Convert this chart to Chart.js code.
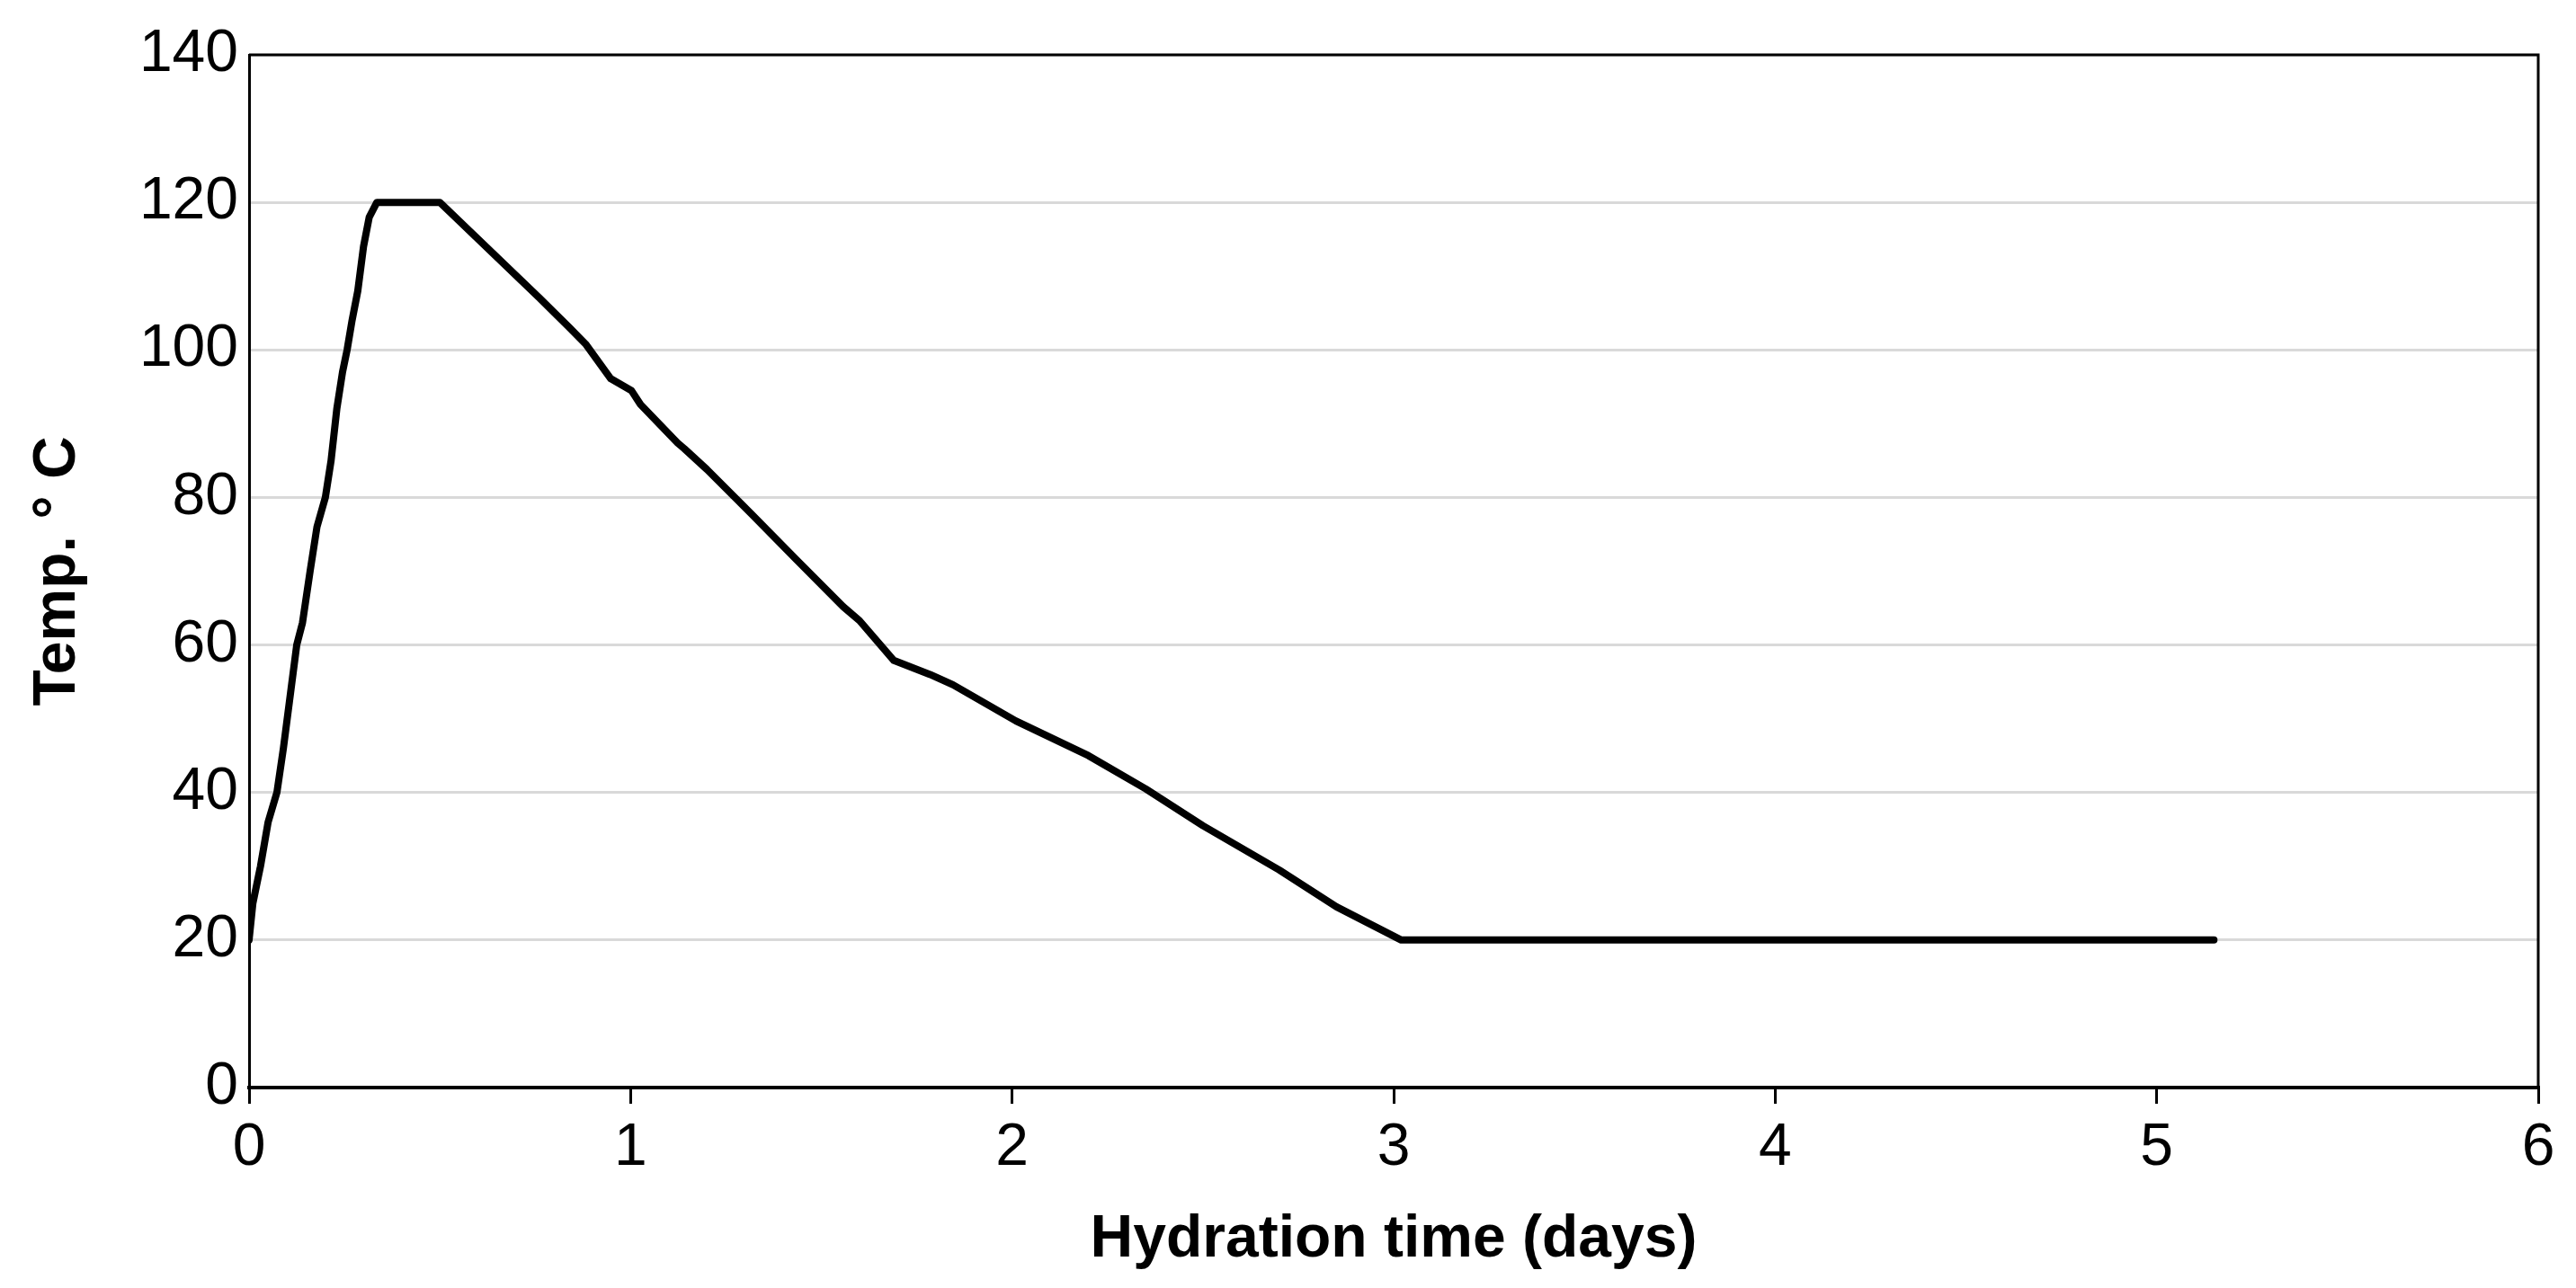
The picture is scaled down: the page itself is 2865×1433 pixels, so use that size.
<!DOCTYPE html>
<html>
<head>
<meta charset="utf-8">
<script src="https://cdn.jsdelivr.net/npm/chart.js@4.4.1/dist/chart.umd.min.js"></script>
<style>
  html, body { margin: 0; padding: 0; background: #fff; }
  #wrap { width: 2865px; height: 1433px; }
</style>
</head>
<body>
<div id="wrap"><canvas id="tempchart"></canvas></div>
<script>
// hydration time in days, temperature in deg C
var days = [0, 0.01, 0.03, 0.05, 0.073, 0.09, 0.11, 0.125, 0.14, 0.16, 0.178, 0.2, 0.215, 0.23, 0.245, 0.257,
	0.27, 0.285, 0.3, 0.315, 0.335, 0.5, 0.762, 0.84, 0.882, 0.948, 1.002, 1.026, 1.123, 1.141, 1.2,
	1.316, 1.436, 1.557, 1.6, 1.69, 1.785, 1.845, 2.01, 2.2, 2.35, 2.5, 2.7, 2.85, 3.02, 5.15];
var temps = [20, 25, 30, 36, 40, 46, 54, 60, 63, 70, 76, 80, 85, 92, 97, 100,
	104, 108, 114, 118, 120, 120, 107, 103, 100.8, 96.1, 94.5, 92.6, 87.4, 86.6, 83.8,
	77.8, 71.5, 65.2, 63.3, 57.9, 56, 54.6, 49.7, 45, 40.5, 35.5, 29.5, 24.5, 20, 20];
var xTicks = [0, 1, 2, 3, 4, 5, 6];
var yTicks = [0, 20, 40, 60, 80, 100, 120, 140];

var points = days.map(function(d, i) { return {x: d, y: temps[i]}; });

var tickFont = {family: "'Liberation Sans Narrow', 'Arial Narrow', 'Liberation Sans', Arial", size: 66};
var titleFont = {family: "'Liberation Sans', Arial", size: 66, weight: 'bold'};

// closes the plot frame on top and right
var frame = {
	id: 'frame',
	afterDraw: function(chart) {
		var a = chart.chartArea, ctx = chart.ctx;
		ctx.save();
		ctx.strokeStyle = '#000';
		ctx.lineWidth = 3;
		ctx.beginPath();
		ctx.moveTo(a.left, a.top);
		ctx.lineTo(a.right, a.top);
		ctx.lineTo(a.right, a.bottom);
		ctx.stroke();
		ctx.restore();
	}
};

Chart.defaults.color = '#000';

new Chart(document.getElementById('tempchart'), {
	type: 'line',
	data: {
		datasets: [{
			data: points,
			borderColor: '#000',
			borderWidth: 8,
			pointRadius: 0,
			tension: 0,
			borderJoinStyle: 'round',
			borderCapStyle: 'round'
		}]
	},
	options: {
		responsive: true,
		maintainAspectRatio: false,
		animation: false,
		layout: {padding: {top: 61, right: 42, left: 0, bottom: 0}},
		plugins: {legend: {display: false}, tooltip: {enabled: false}},
		scales: {
			x: {
				type: 'linear',
				min: 0,
				max: 6,
				afterBuildTicks: function(s) { s.ticks = xTicks.map(function(v) { return {value: v}; }); },
				afterFit: function(s) { s.height = 223; },
				grid: {drawOnChartArea: false, drawTicks: true, tickLength: 18, color: '#000', lineWidth: 3},
				border: {color: '#000', width: 4},
				ticks: {font: tickFont, padding: 10, maxRotation: 0},
				title: {display: true, text: 'Hydration time (days)', font: titleFont, padding: {top: 0, bottom: 14}}
			},
			y: {
				min: 0,
				max: 140,
				afterBuildTicks: function(s) { s.ticks = yTicks.map(function(v) { return {value: v}; }); },
				afterFit: function(s) { s.width = 277; },
				grid: {color: '#d9d9d9', lineWidth: 3, drawTicks: false},
				border: {color: '#000', width: 3},
				ticks: {font: tickFont, padding: 12},
				title: {display: true, text: 'Temp. ° C', font: titleFont, padding: {top: 25, bottom: 0}}
			}
		}
	},
	plugins: [frame]
});
</script>
</body>
</html>
